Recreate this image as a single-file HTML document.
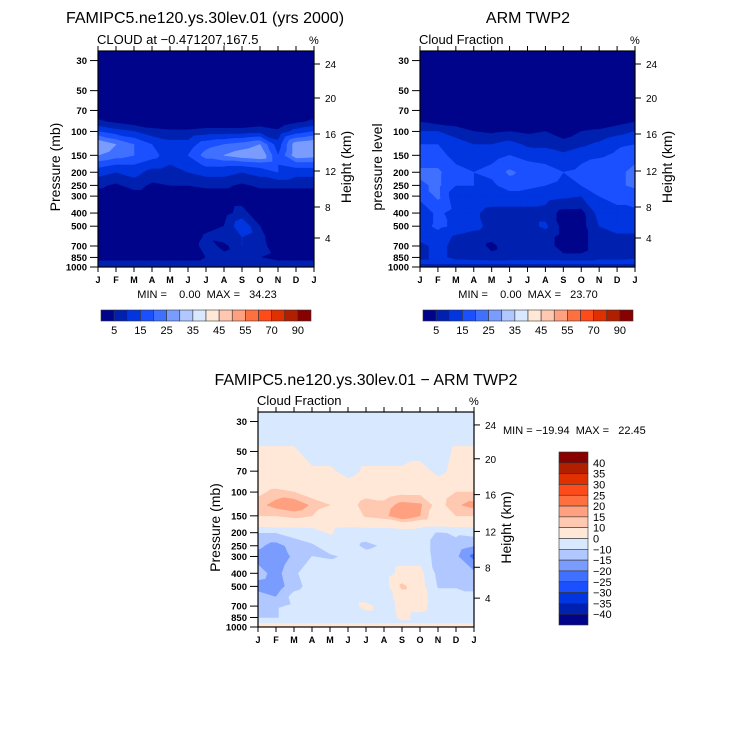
<!DOCTYPE html>
<html><head><meta charset="utf-8">
<style>
html,body{margin:0;padding:0;background:#fff;}
svg{display:block;font-family:"Liberation Sans",sans-serif;}
text{white-space:pre;}
</style></head>
<body>
<svg id="chart" width="732" height="732" viewBox="0 0 732 732" xmlns="http://www.w3.org/2000/svg" xml:space="preserve">
<rect width="732" height="732" fill="#fff"/>
<g id="root"></g>
</svg>
<script>
const months = ['J','F','M','A','M','J','J','A','S','O','N','D','J'];
const pressures = [25,30,50,70,85,100,125,150,175,200,250,300,400,500,600,700,850,925,1000];
const pressureTicks = [30,50,70,100,150,200,250,300,400,500,700,850,1000];
const heightTicks = ['24','20','16','12','8','4'];
const cloudLevels = [5,10,15,20,25,30,35,40,45,50,55,60,70,80,90];
const cloudLabels = ['5','15','25','35','45','55','70','90'];
const diffLevels = [-40,-35,-30,-25,-20,-15,-10,0,10,15,20,25,30,35,40];
const diffLabels = ['40','35','30','25','20','15','10','0','−10','−15','−20','−25','−30','−35','−40'];
const palette = ['#00048a','#0020b0','#0035e0','#1a50ff','#4070ff','#7a9cff','#b0c8ff','#d8e8ff','#ffe8d8','#ffc8b0','#ffa080','#ff7040','#ff4a1a','#e03000','#b02000','#880000'];

const modelValues = [
[0,0,0,0,0,0,0,0,0,0,0,0,0],
[0,0,0,0,0,0,0,0,0,0,0,0,0],
[0,0,0,0,0,0,0,0,0,0,0,0,0],
[1,0,0,0,0,0,0,0,0,0,0,0,1],
[6,4,2,1,0,0,1,1,1,2,1,4,6],
[15,12,10,7,6,6,7,7,7,8,6,12,15],
[30,25,20,15,12,12,18,20,22,25,12,28,30],
[25,22,20,17,12,15,22,25,28,30,15,28,27],
[17,15,15,12,10,12,16,16,16,17,15,17,17],
[12,10,12,8,8,10,12,12,10,12,15,12,12],
[6,4,7,4,5,5,6,6,4,6,6,6,6],
[2,2,2,2,2,2,2,2,2,2,2,2,2],
[0,0,0,0,0,0,0,3,7,1,0,0,0],
[0,0,0,0,0,0,3,5,14,5,0,0,0],
[0,0,0,0,0,0,6,8,10,7,0,0,0],
[0,0,0,0,0,0,8,3,10,8,0,0,0],
[3,3,3,3,3,3,5,7,9,5,3,3,3],
[6,6,6,6,6,6,6,6,6,6,6,6,6],
[10,10,10,10,10,10,10,10,10,10,10,10,10]];

const obsValues = [
[0,0,0,0,0,0,0,0,0,0,0,0,0],
[0,0,0,0,0,0,0,0,0,0,0,0,0],
[0,0,0,0,0,0,0,0,0,0,0,0,0],
[0,0,0,0,0,0,0,0,0,0,0,0,0],
[5,3,2,1,1,1,1,1,0,1,1,3,5],
[10,10,8,5,4,5,4,5,2,5,6,8,10],
[15,15,12,10,10,12,9,9,7,9,11,14,15],
[17,17,13,12,13,15,13,12,11,13,14,16,18],
[19,19,15,14,15,18,16,15,13,15,17,18,20],
[21,21,16,15,16,21,18,17,15,16,20,19,21],
[19,21,15,15,14,17,16,15,14,15,18,19,21],
[16,21,11,14,13,13,13,12,11,10,15,16,17],
[12,16,13,11,8,8,8,8,3,3,12,14,14],
[13,16,14,12,8,8,8,11,3,3,10,12,12],
[12,13,9,7,6,7,7,7,3,3,8,9,9],
[8,12,8,7,4,7,5,7,3,3,8,8,8],
[8,12,8,7,6,7,7,7,6,6,8,8,9],
[12,12,12,12,12,12,12,12,12,12,12,12,12],
[5,5,5,5,5,5,5,5,5,5,5,5,5]];

const diffValues = [
[-5,-5,-5,-5,-5,-5,-5,-5,-5,-5,-5,-5,-5],
[-5,-5,-5,-5,-5,-5,-5,-5,-5,-5,-5,-5,-5],
[1,1,1,-3,-3,-3,-3,-3,-3,-3,-3,1,1],
[3,3,3,1,1,-2,1,1,1,3,-2,2,3],
[5,6,5,3,3,1,3,3,3,3,2,5,5],
[8,12,10,6,4,1,6,6,8,8,6,10,10],
[13,17,19,14,10,5,14,12,17,16,7,14,17],
[10,10,12,10,3,3,11,13,20,15,4,10,10],
[3,4,3,3,2,2,3,3,5,3,2,3,3],
[-10,-10,-8,-6,1,-5,-6,-6,-5,-5,-11,-9,-8],
[-14,-17,-13,-11,-7,-7,-12,-9,-5,-5,-14,-12,-15],
[-17,-19,-14,-10,-11,-9,-7,-5,-4,-4,-14,-14,-22],
[-13,-17,-11,-7,-5,-5,-5,-5,3,3,-13,-14,-14],
[-17,-18,-12,-8,-5,-5,-5,-5,12,4,-11,-11,-11],
[-13,-15,-8,-6,-5,-5,-5,-5,5,4,-6,-6,-9],
[-11,-11,-9,-5,-5,-5,3,-5,3,3,-5,-5,-5],
[-11,-11,-5,-5,-5,-5,-5,-5,2,-3,-5,-5,-5],
[-2,-2,-2,-2,-2,-2,-2,-2,-2,-2,-2,-2,-2],
[8,8,8,8,8,8,8,8,8,8,8,8,8]];

const NS='http://www.w3.org/2000/svg';
const root=document.getElementById('root');
function mk(tag,attrs,parent){const e=document.createElementNS(NS,tag);for(const k in attrs)e.setAttribute(k,attrs[k]);(parent||root).appendChild(e);return e;}
function txt(x,y,s,size,anchor,parent,extra){const t=mk('text',Object.assign({x:x,y:y,'font-size':size,'text-anchor':anchor||'start',fill:'#000'},extra||{}),parent);t.textContent=s;return t;}

function clip(poly,t){
  const out=[];
  for(let i=0;i<poly.length;i++){
    const a=poly[i],b=poly[(i+1)%poly.length];
    const ain=a[2]>=t,bin=b[2]>=t;
    if(ain)out.push(a);
    if(ain!==bin){const f=(t-a[2])/(b[2]-a[2]);out.push([a[0]+f*(b[0]-a[0]),a[1]+f*(b[1]-a[1]),t]);}
  }
  return out;
}

function panel(id,x0,y0,w,h,values,levels,sub,leftLabel){
  const g=mk('g',{});
  
  
  const xs=i=>x0+i*w/12;
  const ys=p=>y0+h-( (Math.log10(1000)-Math.log10(p)) / (Math.log10(1000)-Math.log10(25.5)) )*h;
  const cid='clip-'+id;
  const cp=mk('clipPath',{id:cid},g);mk('rect',{x:x0,y:y0,width:w,height:h},cp);
  const fg=mk('g',{'clip-path':'url(#'+cid+')'},g);
  
  
  mk('rect',{x:x0,y:y0,width:w,height:h,fill:palette[0]},fg);
  const tris=[];
  for(let r=0;r<pressures.length-1;r++)for(let c=0;c<12;c++){
    const A=[xs(c),ys(pressures[r]),values[r][c]],B=[xs(c+1),ys(pressures[r]),values[r][c+1]],
          C=[xs(c+1),ys(pressures[r+1]),values[r+1][c+1]],D=[xs(c),ys(pressures[r+1]),values[r+1][c]];
    tris.push([A,B,C],[A,C,D]);
  }
  levels.forEach((t,k)=>{
    let d='';
    tris.forEach(tr=>{const p=clip(tr,t);if(p.length>=3){d+='M'+p.map(q=>q[0].toFixed(2)+' '+q[1].toFixed(2)).join('L')+'Z';}});
    if(d){const pa=mk('path',{d:d,fill:palette[k+1],stroke:palette[k+1],'stroke-width':0.6,'stroke-linejoin':'round'},fg);
      
      }
  });
  mk('rect',{x:x0,y:y0,width:w,height:h,fill:'none',stroke:'#000','stroke-width':1.2},g);
  months.forEach((m,i)=>{
    mk('line',{x1:xs(i),x2:xs(i),y1:y0,y2:y0-5,stroke:'#000','stroke-width':1},g);
    mk('line',{x1:xs(i),x2:xs(i),y1:y0+h,y2:y0+h+5,stroke:'#000','stroke-width':1},g);
    const t=txt(xs(i),y0+h+16,m,9,'middle',g,{'font-weight':'bold'});
    
    
  });
  pressureTicks.forEach(p=>{
    mk('line',{x1:x0-8,x2:x0,y1:ys(p),y2:ys(p),stroke:'#000','stroke-width':1},g);
    const t=txt(x0-11,ys(p)+3.5,String(p),9.5,'end',g,{'font-weight':'bold'});
    
    
  });
  const hOff=[13,47,83,120,156,187];
  heightTicks.forEach((s,i)=>{
    const y=y0+hOff[i]*h/216;
    mk('line',{x1:x0+w,x2:x0+w+6,y1:y,y2:y,stroke:'#000','stroke-width':1},g);
    const t=txt(x0+w+11,y+4,s,10,'start',g);
    
    
  });
  const st=txt(x0-1,y0-7,sub,13,'start',g);
  
  
  const pc=txt(x0+w-5,y0-7,'%',11,'start',g);
  
  
  const ly=y0+h/2+8;
  const ll=txt(0,0,leftLabel,14,'middle',g,{transform:'translate('+(x0-38)+','+ly+') rotate(-90)'});
  
  
  const rl=txt(0,0,'Height (km)',14,'middle',g,{transform:'translate('+(x0+w+37)+','+ly+') rotate(-90)'});
  
  
}

function hbar(id,x0,y0,w,h){
  const g=mk('g',{});
  
  
  const bw=w/16;
  palette.forEach((c,i)=>{const r=mk('rect',{x:x0+i*bw,y:y0,width:bw,height:h,fill:c,stroke:'#333','stroke-width':0.6},g);
    
    });
  cloudLabels.forEach((s,i)=>{const t=txt(x0+(1+2*i)*bw,y0+h+13,s,11,'middle',g);
    
    });
}

let t=txt(205,23,'FAMIPC5.ne120.ys.30lev.01 (yrs 2000)',16,'middle');

t=txt(528,23,'ARM TWP2',16,'middle');

t=txt(366,385,'FAMIPC5.ne120.ys.30lev.01 − ARM TWP2',16,'middle');


panel('model-panel',98,51,216,216,modelValues,cloudLevels,'CLOUD at −0.471207,167.5','Pressure (mb)');
panel('obs-panel',420,51,215,216,obsValues,cloudLevels,'Cloud Fraction','pressure level');
panel('diff-panel',258,412,216,215,diffValues,diffLevels,'Cloud Fraction','Pressure (mb)');

t=txt(207,298,'MIN =    0.00  MAX =   34.23',11,'middle');

t=txt(528,298,'MIN =    0.00  MAX =   23.70',11,'middle');

t=txt(503,434,'MIN = −19.94  MAX =   22.45',11,'start');


hbar('model-colorbar',101,310,210,11);
hbar('obs-colorbar',423,310,210,11);

(function(){
  const g=mk('g',{});
  
  
  const x0=559,y0=452,w=29,H=173,bh=H/16;
  for(let i=0;i<16;i++){
    const r=mk('rect',{x:x0,y:y0+i*bh,width:w,height:bh,fill:palette[15-i],stroke:'#333','stroke-width':0.6},g);
    
    
  }
  diffLabels.forEach((s,i)=>{const tt=txt(x0+w+5,y0+(i+1)*bh+4,s,11,'start',g);
    
    });
})();
</script>
</body></html>
